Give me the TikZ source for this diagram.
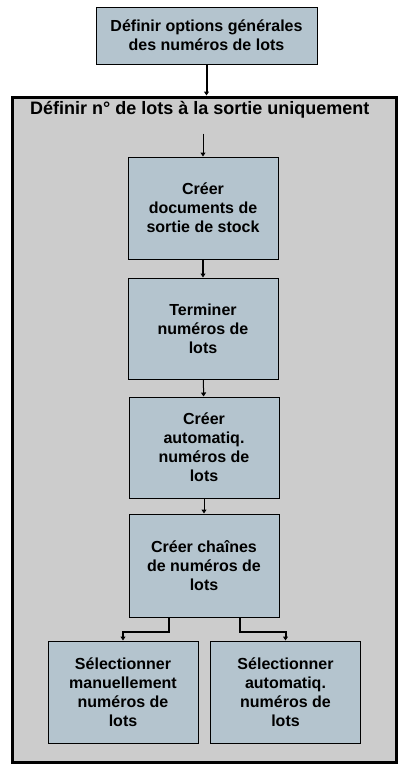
\documentclass[tikz,border=0pt]{standalone}
\usepackage{fontspec}
\setmainfont{Liberation Sans}
\usepackage{xcolor}
\usepackage{tikz}
\usetikzlibrary{arrows.meta,positioning,calc}

\definecolor{boxfill}{RGB}{180,196,206}
\definecolor{zonefill}{RGB}{204,204,204}

\tikzset{%
lotbox/.style={draw,rectangle,black,fill=boxfill,line width=1pt,inner sep=0pt,align=center,minimum width=150pt,minimum height=102pt,font=\bfseries\fontsize{16}{19}\selectfont},%
zonebox/.style={draw,rectangle,black,fill=zonefill,line width=3pt,inner sep=0pt},%
thinarrow/.style={draw,black,line width=1pt,-{Triangle[width=5pt,length=4pt]}},%
thickarrow/.style={draw,black,line width=2pt,-{Triangle[width=5pt,length=4pt]}},%
}

\begin{document}
\begin{tikzpicture}[x=1pt,y=-1pt]%
\useasboundingbox[fill=white] (0,0) rectangle (410,777);%
\node[zonebox,minimum width=384pt,minimum height=665pt] (zone) at (204.5,429.5) {};%
\node[lotbox,minimum width=221pt,minimum height=57pt] (options) at (206.5,35.5) {Définir options générales\\des numéros de lots};%
\node[black,anchor=base west,inner sep=0pt,font=\bfseries\fontsize{18}{21}\selectfont] (titre) at (30,114.5) {Définir n° de lots à la sortie uniquement};%
\node[lotbox] (docs) at (203,208) {Créer\\documents de\\sortie de stock};%
\node[lotbox,minimum height=101pt,below=18pt of docs] (terminer) {Terminer\\numéros de\\lots};%
\node[lotbox,minimum height=101pt,below=17pt of terminer,xshift=1pt] (auto) {Créer\\automatiq.\\numéros de\\lots};%
\node[lotbox,minimum height=103pt,below=15pt of auto] (chaines) {Créer chaînes\\de numéros de\\lots};%
\node[lotbox] (manuel) at (123,692) {Sélectionner\\manuellement\\numéros de\\lots};%
\node[lotbox] (autosel) at (285.5,692) {Sélectionner\\automatiq.\\numéros de\\lots};%
\coordinate[above=23pt of docs] (entree);%
\draw[thickarrow] (options.south) -- (options.south |- zone.north);%
\draw[thinarrow] (entree) -- (docs);%
\draw[thickarrow] (docs) -- (terminer);%
\draw[thinarrow] (terminer) -- (auto);%
\draw[thinarrow] (auto) -- (chaines);%
\draw[thickarrow] ([xshift=-35pt]chaines.south) -- ++(0,14) -| (manuel);%
\draw[thickarrow] ([xshift=36pt]chaines.south) -- ++(0,14) -| (autosel);%
\end{tikzpicture}
\end{document}
